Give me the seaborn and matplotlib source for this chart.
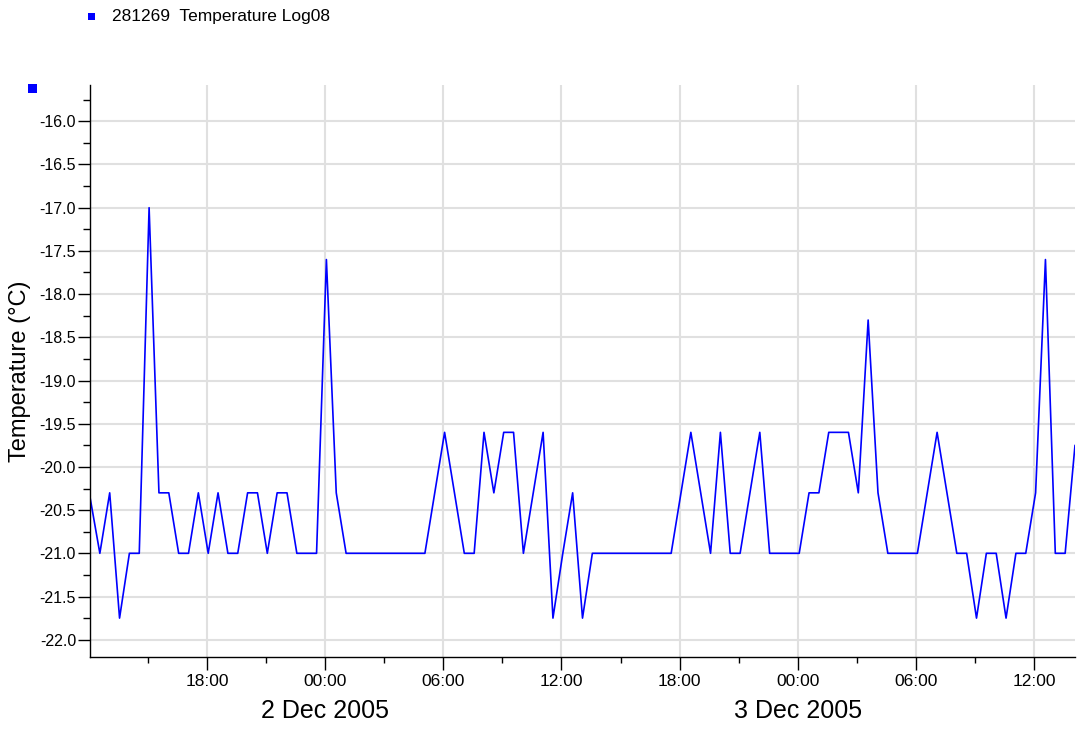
import pandas as pd
import matplotlib
matplotlib.use('Agg')
import matplotlib.pyplot as plt
import matplotlib.dates as mdates
import matplotlib.ticker as mticker
import matplotlib.transforms as mtrans
from matplotlib.patches import Rectangle
import seaborn as sns

# Logger samples: one reading every 30 minutes
start_time = '2005-12-01 12:04'
interval = '30min'
temperature = [
    -20.35, -21.0, -20.3, -21.75, -21.0, -21.0, -17.0, -20.3, -20.3, -21.0,
    -21.0, -20.3, -21.0, -20.3, -21.0, -21.0, -20.3, -20.3, -21.0, -20.3,
    -20.3, -21.0, -21.0, -21.0, -17.6, -20.3, -21.0, -21.0, -21.0, -21.0,
    -21.0, -21.0, -21.0, -21.0, -21.0, -20.3, -19.6, -20.3, -21.0, -21.0,
    -19.6, -20.3, -19.6, -19.6, -21.0, -20.3, -19.6, -21.75, -21.0, -20.3,
    -21.75, -21.0, -21.0, -21.0, -21.0, -21.0, -21.0, -21.0, -21.0, -21.0,
    -20.3, -19.6, -20.3, -21.0, -19.6, -21.0, -21.0, -20.3, -19.6, -21.0,
    -21.0, -21.0, -21.0, -20.3, -20.3, -19.6, -19.6, -19.6, -20.3, -18.3,
    -20.3, -21.0, -21.0, -21.0, -21.0, -20.3, -19.6, -20.3, -21.0, -21.0,
    -21.75, -21.0, -21.0, -21.75, -21.0, -21.0, -20.3, -17.6, -21.0, -21.0,
    -19.75,
]
series_name = '281269  Temperature Log08'
y_label = 'Temperature (°C)'
date_labels = ['2 Dec 2005', '3 Dec 2005']
date_positions = ['2005-12-02 00:00', '2005-12-03 00:00']

df = pd.DataFrame({
    'Time': pd.date_range(start_time, periods=len(temperature), freq=interval),
    'Temperature': temperature,
})

sns.set_style('white')
plt.rcParams['font.family'] = ['Liberation Sans', 'DejaVu Sans']
plt.rcParams['text.color'] = 'black'

W, H = 1077, 729
fig = plt.figure(figsize=(W / 100, H / 100), dpi=100)
ax = fig.add_axes([90 / W, 1 - 657 / H, (1075 - 90) / W, (657 - 85) / H])

sns.lineplot(x='Time', y='Temperature', data=df, color='#0000ff', linewidth=1.2, ax=ax)

ax.set_xlim(df['Time'].iloc[0], df['Time'].iloc[-1])
ax.set_ylim(-22.2, -15.58)

ax.xaxis.set_major_locator(mdates.HourLocator(byhour=[0, 6, 12, 18]))
ax.xaxis.set_minor_locator(mdates.HourLocator(byhour=[3, 9, 15, 21]))
ax.xaxis.set_major_formatter(mdates.DateFormatter('%H:%M'))
ax.yaxis.set_major_locator(mticker.MultipleLocator(0.5))
ax.yaxis.set_minor_locator(mticker.MultipleLocator(0.25))
ax.yaxis.set_major_formatter(mticker.FormatStrFormatter('%.1f'))

ax.tick_params(axis='both', which='both', direction='out', width=1,
               color='black', labelcolor='black', bottom=True, left=True)
ax.tick_params(axis='x', which='major', length=9, labelsize=12.5, pad=3)
ax.tick_params(axis='x', which='minor', length=4)
ax.tick_params(axis='y', which='major', length=9, labelsize=11.5, pad=1)
ax.tick_params(axis='y', which='minor', length=5)
ax.grid(True, which='major', color='#e0e0e0', linewidth=1.5)
ax.set_axisbelow(True)
sns.despine(ax=ax)
for side in ['left', 'bottom']:
    ax.spines[side].set_color('black')
    ax.spines[side].set_linewidth(1)

ax.set_xlabel('')
ax.set_ylabel(y_label, fontsize=17, labelpad=6, color='black')

# day labels under midnight ticks
trans = mtrans.blended_transform_factory(ax.transData, fig.transFigure)
for pos, lab in zip(date_positions, date_labels):
    ax.text(mdates.date2num(pd.Timestamp(pos)), 1 - 711 / H, lab, ha='center', va='center',
            fontsize=18, transform=trans)

# legend entry and small series marker near axis
fig.patches.append(Rectangle((88 / W, 1 - 20 / H), 7 / W, 7 / H, transform=fig.transFigure,
                             facecolor='#0000ff', edgecolor='none'))
fig.text(112 / W, 1 - 16 / H, series_name, fontsize=12.5, va='center', ha='left')
fig.patches.append(Rectangle((28 / W, 1 - 93 / H), 9 / W, 9 / H, transform=fig.transFigure,
                             facecolor='#0000ff', edgecolor='none'))

fig.savefig('out.png', dpi=100)
